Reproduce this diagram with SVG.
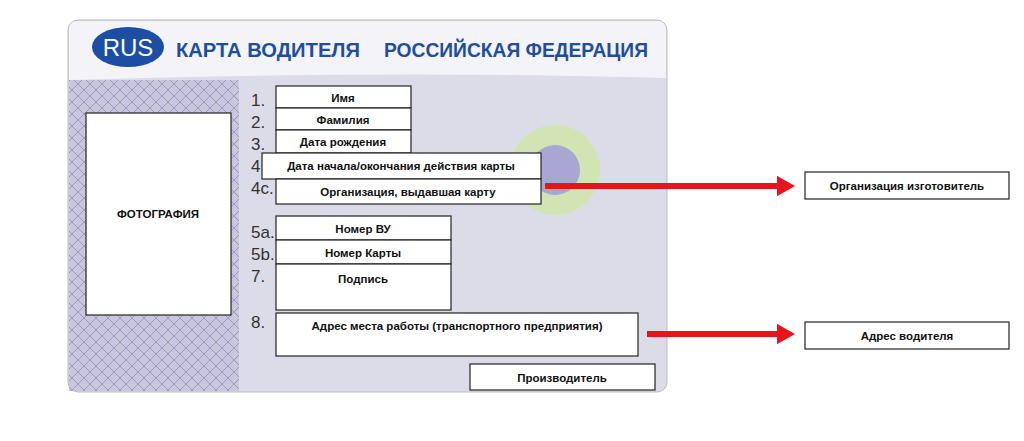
<svg xmlns="http://www.w3.org/2000/svg" width="1024" height="441" viewBox="0 0 1024 441">
<style>
.f{fill:#fff;stroke:#222;stroke-width:1.2}
.t{font-family:"Liberation Sans",Arial,sans-serif;font-size:11.5px;font-weight:bold;fill:#111;text-anchor:middle}
.n{font-family:"Liberation Sans",Arial,sans-serif;font-size:17px;fill:#333}
.h{font-family:"Liberation Sans",Arial,sans-serif;font-size:21px;font-weight:bold;fill:#1e4e9e}
.c{stroke:#e8141b;stroke-width:6}
</style>
<defs>
<marker id="a" markerWidth="3" markerHeight="3.4" refX="1.5" refY="1.7" orient="auto"><path d="M0,0L3,1.7L0,3.4z" fill="#e8141b"/></marker>
<pattern id="p" width="12" height="12" patternUnits="userSpaceOnUse"><rect width="12" height="12" fill="#c9c7de"/><path d="M0,6L6,0L12,6L6,12z" fill="none" stroke="#9d99c4" stroke-width="1"/></pattern>
</defs>
<rect width="1024" height="441" fill="#fff"/>
<g id="card">
<rect x="68" y="20" width="599" height="372" rx="10" fill="#dcdbe8" stroke="#bbb"/>
<path d="M69,30 Q69,21 78,21 L657,21 Q666,21 666,30 L666,78 Q400,70 69,80z" fill="#f4f4f8"/>
<rect x="69" y="80" width="170" height="311" fill="url(#p)"/>
<circle cx="555" cy="170" r="45" fill="#cfe6a6" opacity="0.8"/>
<circle cx="555" cy="170" r="25" fill="#a9a6d3"/>
<ellipse cx="128" cy="47" rx="36" ry="20" fill="#1c4ea3"/>
<text x="128" y="56" font-family="Liberation Sans,Arial,sans-serif" font-size="24" fill="#fff" text-anchor="middle">RUS</text>
<text class="h" x="176" y="57" textLength="184" lengthAdjust="spacingAndGlyphs">КАРТА ВОДИТЕЛЯ</text>
<text class="h" x="384" y="57" textLength="264" lengthAdjust="spacingAndGlyphs">РОССИЙСКАЯ ФЕДЕРАЦИЯ</text>
</g>
<g id="photo"><rect class="f" x="86" y="113" width="145" height="202"/><text class="t" x="158" y="218">ФОТОГРАФИЯ</text></g>
<g id="nums">
<text class="n" x="251" y="106">1.</text><text class="n" x="251" y="128">2.</text><text class="n" x="251" y="150">3.</text><text class="n" x="251" y="172">4</text><text class="n" x="251" y="194">4c.</text><text class="n" x="251" y="238">5a.</text><text class="n" x="251" y="260">5b.</text><text class="n" x="251" y="282">7.</text><text class="n" x="251" y="328">8.</text>
</g>
<g id="f1"><rect class="f" x="276" y="86" width="135" height="22"/><text class="t" x="343" y="102">Имя</text></g>
<g id="f2"><rect class="f" x="276" y="108" width="135" height="22"/><text class="t" x="343" y="124">Фамилия</text></g>
<g id="f3"><rect class="f" x="276" y="130" width="135" height="23"/><text class="t" x="343" y="146">Дата рождения</text></g>
<g id="f4"><rect class="f" x="262" y="153" width="279" height="26"/><text class="t" x="401" y="170">Дата начала/окончания действия карты</text></g>
<g id="f4c"><rect class="f" x="276" y="179" width="265" height="25"/><text class="t" x="408" y="196">Организация, выдавшая карту</text></g>
<g id="f5a"><rect class="f" x="276" y="216" width="175" height="24"/><text class="t" x="363" y="233">Номер ВУ</text></g>
<g id="f5b"><rect class="f" x="276" y="240" width="175" height="24"/><text class="t" x="363" y="257">Номер Карты</text></g>
<g id="f7"><rect class="f" x="276" y="264" width="175" height="46"/><text class="t" x="363" y="283">Подпись</text></g>
<g id="f8"><rect class="f" x="276" y="313" width="362" height="43"/><text class="t" x="457" y="330">Адрес места работы (транспортного предприятия)</text></g>
<g id="fp"><rect class="f" x="470" y="364" width="185" height="26"/><text class="t" x="562" y="382">Производитель</text></g>
<g id="r1"><rect class="f" x="805" y="172" width="204" height="27"/><text class="t" x="907" y="190">Организация изготовитель</text></g>
<g id="r2"><rect class="f" x="805" y="322" width="204" height="27"/><text class="t" x="907" y="340">Адрес водителя</text></g>
<g id="connectors">
<line class="c" x1="545" y1="186" x2="786" y2="186" marker-end="url(#a)"/>
<line class="c" x1="647" y1="334" x2="786" y2="334" marker-end="url(#a)"/>
</g>
</svg>
